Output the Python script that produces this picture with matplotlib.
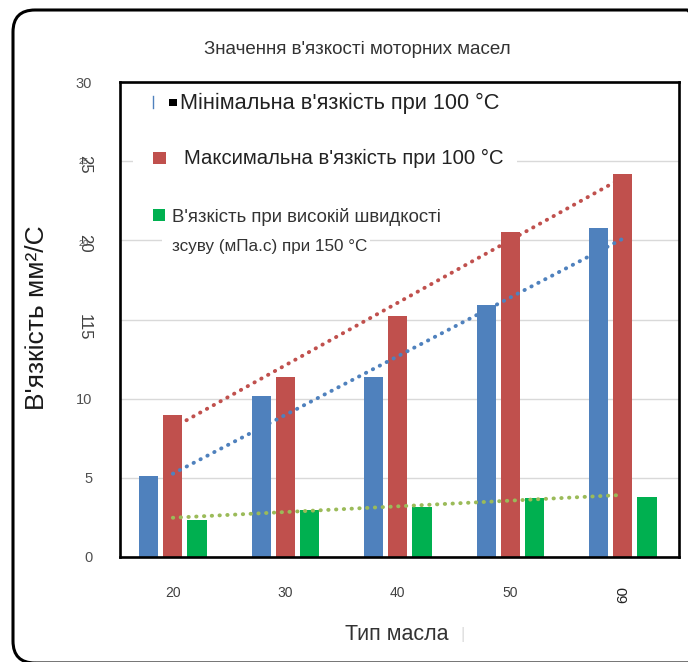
import numpy as np
import matplotlib.pyplot as plt
from matplotlib.patches import FancyBboxPatch, Rectangle

plt.rcParams['font.family'] = ['Liberation Sans', 'DejaVu Sans']

# класи в'язкості SAE та значення
grades = ['20', '30', '40', '50', '60']
visc_min = [5.1, 10.2, 11.4, 15.9, 20.8]
visc_max = [9.0, 11.4, 15.2, 20.5, 24.2]
visc_hths = [2.35, 3.0, 3.15, 3.7, 3.8]
yticks = [0, 5, 10, 15, 20, 25, 30]
ytick_labels = ['0', '5', '10', '115', '20', '25', '30']

blue = '#4F81BD'
red = '#C0504D'
green = '#00B050'
green_trend = '#9BBB59'

W, H = 688, 662

def px(x, y):
    # пікселі -> частки фігури
    return x / W, 1 - y / H

fig = plt.figure(figsize=(W / 100, H / 100), dpi=100)

# рамка з заокругленими кутами, права сторона за межею малюнка
frame = FancyBboxPatch((0.13, -0.01), 6.96, 6.53, boxstyle='round,pad=0,rounding_size=0.22',
                       transform=fig.dpi_scale_trans, fill=False, ec='black', lw=2.2)
fig.add_artist(frame)

ax = fig.add_axes([120 / W, 105 / H, 559 / W, 475 / H])
x = np.arange(len(grades))
w = 0.17
d = 0.215
ax.bar(x - d, visc_min, w, color=blue, zorder=2)
ax.bar(x, visc_max, w, color=red, zorder=2)
ax.bar(x + d, visc_hths, w, color=green, zorder=2)

# лінійні тренди
for vals, c in [(visc_max, red), (visc_min, blue), (visc_hths, green_trend)]:
    k, b = np.polyfit(x, vals, 1)
    ax.plot(x, k * x + b, ls=(0, (0.1, 1.9)), lw=2.8, color=c,
            dash_capstyle='round', zorder=3)

ax.set_xlim(-0.47, 4.5)
ax.set_ylim(0, 30)
ax.set_yticks(yticks)
ax.set_yticklabels(ytick_labels)
ax.grid(axis='y', color='#d9d9d9', lw=1)
ax.set_axisbelow(True)
for s in ax.spines.values():
    s.set_linewidth(1.9)
    s.set_color('black')

ax.set_xticks(x)
ax.set_xticklabels(grades)
ax.tick_params(axis='x', length=0, pad=21, labelsize=10, labelcolor='#404040')
ax.tick_params(axis='y', length=0, pad=20, labelsize=10.5, labelcolor='#505050')
ax.get_xticklabels()[-1].set_rotation(90)
ax.get_xticklabels()[-1].set_fontsize(11)
ax.get_xticklabels()[-1].set_color('#222222')
for lab in ax.get_yticklabels():
    if lab.get_text() in ('115', '20', '25'):
        lab.set_rotation(270)
        lab.set_fontsize(12)
        lab.set_color('#404040')

# дрібні дублікати підписів
fig.text(*px(84, 161), '25', fontsize=6.5, ha='center', va='center', color='#505050')
fig.text(*px(84, 244), '20', fontsize=6.5, ha='center', va='center', color='#505050')

fig.text(*px(357, 50), "Значення в'язкості моторних масел", fontsize=13.5,
         ha='center', va='center', color='#333333')
fig.text(*px(37, 318), "В'язкість мм²/С", fontsize=19, rotation=90,
         ha='center', va='center', color='#1a1a1a')
fig.text(*px(397, 635), 'Тип масла', fontsize=15.5, ha='center', va='center', color='#333333')
fig.text(*px(463, 635), '|', fontsize=12, ha='center', va='center', color='#dddddd')

# легенда
def box(x0, y0, x1, y1, color, z=4):
    fx0, fy1 = px(x0, y0)
    fx1, fy0 = px(x1, y1)
    fig.add_artist(Rectangle((fx0, fy0), fx1 - fx0, fy1 - fy0, transform=fig.transFigure,
                             color=color, zorder=z, lw=0))

box(133, 148, 517, 169, 'white', z=2)
box(162, 236, 370, 257, 'white', z=2)
fig.add_artist(plt.Line2D([153 / W, 153 / W], [1 - 108 / H, 1 - 96 / H], color=blue,
                          lw=1, transform=fig.transFigure, zorder=4))
box(169, 99, 177, 106, 'black')
box(153, 152, 166, 164, red)
box(153, 209, 165, 221, green)

fig.text(*px(180, 103), "Мінімальна в'язкість при 100 °C", fontsize=15.7,
         ha='left', va='center', color='#222222', zorder=3)
fig.text(*px(184, 158), "Максимальна в'язкість при 100 °C", fontsize=14.6,
         ha='left', va='center', color='#222222', zorder=3)
fig.text(*px(172, 217), "В'язкість при високій швидкості", fontsize=13.4,
         ha='left', va='center', color='#333333', zorder=3)
fig.text(*px(172, 246), "зсуву (мПа.с) при 150 °C", fontsize=12.3,
         ha='left', va='center', color='#333333', zorder=3)

fig.savefig('out.png', dpi=100)
